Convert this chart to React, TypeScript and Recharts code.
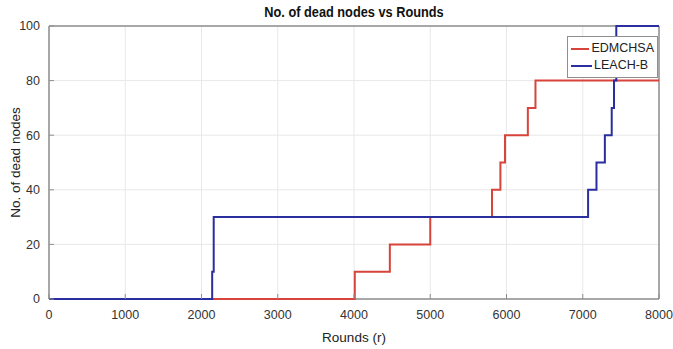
import React from 'react';
import { LineChart, Line, XAxis, YAxis, CartesianGrid, Legend } from 'recharts';

const ROUND_TICKS = [0, 1000, 2000, 3000, 4000, 5000, 6000, 7000, 8000];
const NODE_TICKS = [0, 20, 40, 60, 80, 100];

// step points: rounds at which the dead-node count changes
const edmchsaRounds = [0, 4010, 4470, 5000, 5810, 5920, 5980, 6280, 6380, 8000];
const edmchsaDead = [0, 10, 20, 30, 40, 50, 60, 70, 80, 80];

const leachRounds = [0, 2140, 2160, 7070, 7180, 7290, 7380, 7410, 7440, 8000];
const leachDead = [0, 10, 30, 40, 50, 60, 70, 80, 100, 100];

const RED = '#d8433b';
const BLUE = '#2b2e9e';
const AXIS = '#8f8f8f';
const FONT = '"Liberation Sans", Arial, Helvetica, sans-serif';

const toPoints = (rounds: number[], dead: number[]) =>
  rounds.map((r, i) => ({ round: r, dead: dead[i] }));

const edmchsa = toPoints(edmchsaRounds, edmchsaDead);
const leach = toPoints(leachRounds, leachDead);

const tickStyle = { fontSize: 12.5, fill: '#333', fontFamily: FONT };

const LegendBox = () => (
  <div
    style={{
      border: `1px solid ${AXIS}`,
      background: '#fff',
      padding: '3px 3px 3px 3px',
      fontFamily: FONT,
      fontSize: 12.5,
      color: '#222',
      lineHeight: '17px',
      boxSizing: 'border-box',
      width: 91,
      whiteSpace: 'nowrap',
    }}
  >
    {[
      { name: 'EDMCHSA', color: RED },
      { name: 'LEACH-B', color: BLUE },
    ].map((item) => (
      <div key={item.name} style={{ display: 'flex', alignItems: 'center' }}>
        <span style={{ display: 'inline-block', width: 21, height: 2, background: item.color, marginRight: 2 }} />
        <span>{item.name}</span>
      </div>
    ))}
  </div>
);

export default function App() {
  return (
    <div style={{ position: 'absolute', left: 0, top: 0, width: 673, height: 349, background: '#fff' }}>
      <div
        style={{
          position: 'absolute',
          left: 49,
          width: 610,
          top: 4,
          textAlign: 'center',
          fontFamily: FONT,
          fontWeight: 'bold',
          fontSize: 14.5,
          color: '#111',
          transform: 'scaleX(0.88)',
        }}
      >
        No. of dead nodes vs Rounds
      </div>
      <LineChart width={673} height={349} margin={{ top: 26, right: 14, bottom: 0, left: 0 }}>
        <CartesianGrid stroke="#e8e8e8" strokeWidth={1} />
        {/* plot frame, kept behind the series */}
        <CartesianGrid
          horizontalValues={[0, 100]}
          verticalValues={[0, 8000]}
          stroke={AXIS}
          strokeWidth={1.5}
        />
        <XAxis
          dataKey="round"
          type="number"
          domain={[0, 8000]}
          ticks={ROUND_TICKS}
          height={50}
          axisLine={false}
          tickLine={{ stroke: AXIS }}
          tickSize={-5}
          tickMargin={16}
          tick={tickStyle}
          label={{ value: 'Rounds (r)', position: 'insideBottom', offset: 7, fill: '#222', fontSize: 13.5, fontFamily: FONT }}
        />
        <XAxis
          xAxisId="top"
          orientation="top"
          type="number"
          domain={[0, 8000]}
          ticks={ROUND_TICKS}
          height={0}
          axisLine={false}
          tickLine={{ stroke: AXIS }}
          tickSize={-5}
          tick={false}
        />
        <YAxis
          type="number"
          domain={[0, 100]}
          ticks={NODE_TICKS}
          width={49}
          axisLine={false}
          tickLine={{ stroke: AXIS }}
          tickSize={-5}
          tickMargin={14}
          tick={tickStyle}
          label={{
            value: 'No. of dead nodes',
            angle: -90,
            position: 'insideLeft',
            offset: 15,
            fill: '#222',
            fontSize: 13.5,
            fontFamily: FONT,
            style: { textAnchor: 'middle' },
          }}
        />
        <YAxis
          yAxisId="right"
          orientation="right"
          type="number"
          domain={[0, 100]}
          ticks={NODE_TICKS}
          width={0}
          axisLine={false}
          tickLine={{ stroke: AXIS }}
          tickSize={-5}
          tick={false}
        />
        <Legend
          layout="vertical"
          align="center"
          verticalAlign="middle"
          wrapperStyle={{ position: 'absolute', left: 567, top: 36, width: 91 }}
          content={() => <LegendBox />}
        />
        <Line
          data={edmchsa}
          dataKey="dead"
          name="EDMCHSA"
          type="stepAfter"
          stroke={RED}
          strokeWidth={2}
          dot={false}
          isAnimationActive={false}
        />
        <Line
          data={leach}
          dataKey="dead"
          name="LEACH-B"
          type="stepAfter"
          stroke={BLUE}
          strokeWidth={2}
          dot={false}
          isAnimationActive={false}
        />
      </LineChart>
    </div>
  );
}
